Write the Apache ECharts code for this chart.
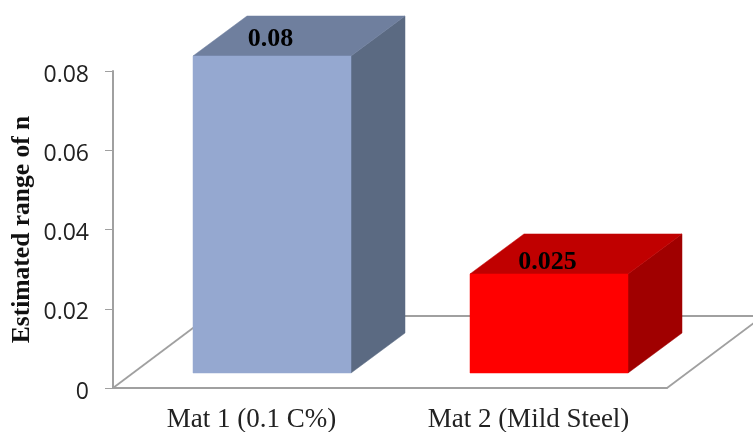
<!DOCTYPE html>
<html>
<head>
<meta charset="utf-8">
<style>html,body{margin:0;padding:0;background:#fff}#c{width:753px;height:432px}</style>
<script src="https://cdn.jsdelivr.net/npm/echarts@6/dist/echarts.min.js"></script>
</head>
<body>
<div id="c"></div>
<script>
const categories = ['Mat 1 (0.1 C%)', 'Mat 2 (Mild Steel)'];
const values = [0.08, 0.025];
const frontColors = ['#95a8d0', '#ff0000'];
const topColors = ['#6f7f9e', '#c00000'];
const sideColors = ['#5b6a82', '#a00000'];
const labelLifts = [17, 12];

const barWidth = 158, barShiftX = 20.5, barLiftY = 15, depthX = 54, depthY = 40;
const floorDepthX = 96, floorDepthY = 72, floorRightExtra = 100;
const serif = '"Liberation Serif", serif';
const gridLine = '#a0a0a0';

function renderBar(params, api) {
  const i = api.value(0), v = api.value(1);
  const base = api.coord([i, 0]), top = api.coord([i, v]);
  const x0 = base[0] + barShiftX - barWidth / 2, x1 = x0 + barWidth;
  const yb = base[1] - barLiftY, yt = top[1] - barLiftY;
  const poly = (points, fill, z2) => ({
    type: 'polygon', z2,
    shape: { points },
    style: { fill, stroke: fill, lineWidth: 0.5 }
  });
  return {
    type: 'group',
    children: [
      poly([[x1, yb], [x1 + depthX, yb - depthY], [x1 + depthX, yt - depthY], [x1, yt]], sideColors[i], 1),
      poly([[x0, yt], [x1, yt], [x1 + depthX, yt - depthY], [x0 + depthX, yt - depthY]], topColors[i], 1),
      poly([[x0, yb], [x1, yb], [x1, yt], [x0, yt]], frontColors[i], 2),
      {
        type: 'text', z2: 3,
        style: {
          text: String(v), x: base[0] + barShiftX - 1.5, y: yt - labelLifts[i],
          align: 'center', verticalAlign: 'middle',
          font: 'bold 26px ' + serif, fill: '#000'
        }
      }
    ]
  };
}

function renderFloor(params, api) {
  const cs = params.coordSys;
  const xl = cs.x, xr = cs.x + cs.width, yb = cs.y + cs.height, yBack = yb - floorDepthY;
  const line = (x1, y1, x2, y2) => ({
    type: 'line',
    shape: { x1, y1, x2, y2 },
    style: { stroke: gridLine, lineWidth: 1.8 }
  });
  return {
    type: 'group',
    children: [
      line(xl, yb, xl + floorDepthX, yBack),
      line(xl + floorDepthX, yBack, xr + floorRightExtra, yBack),
      line(xr, yb, xr + floorDepthX, yBack)
    ]
  };
}

const chart = echarts.init(document.getElementById('c'), null, { renderer: 'canvas' });
chart.setOption({
  animation: false,
  backgroundColor: '#fff',
  grid: { left: 113, top: 71, width: 554, height: 317, containLabel: false, outerBoundsMode: 'none' },
  xAxis: {
    type: 'category',
    data: categories,
    axisLine: { show: true, lineStyle: { color: gridLine, width: 2 } },
    axisTick: { show: false },
    axisLabel: { color: '#222', fontFamily: serif, fontSize: 27, margin: 18, hideOverlap: false }
  },
  yAxis: {
    type: 'value',
    min: 0,
    max: 0.08,
    interval: 0.02,
    name: 'Estimated range of n',
    nameLocation: 'middle',
    nameGap: 78,
    nameMoveOverlap: false,
    nameTextStyle: { color: '#111', fontFamily: serif, fontWeight: 'bold', fontSize: 25.5 },
    axisLine: { show: true, lineStyle: { color: gridLine, width: 2 } },
    axisTick: { show: true, length: 8, lineStyle: { color: gridLine, width: 1 } },
    splitLine: { show: false },
    axisLabel: { color: '#222', fontFamily: '"Open Sans", sans-serif', fontSize: 23, margin: 24, verticalAlign: 'top', lineHeight: 8 }
  },
  series: [
    { type: 'custom', name: 'floor', renderItem: renderFloor, data: [[0, 0]], silent: true, z: 1, clip: false },
    {
      type: 'custom', name: 'Estimated range of n', renderItem: renderBar,
      data: values.map((v, i) => [i, v]), encode: { x: 0, y: 1 }, z: 3, clip: false
    }
  ]
});
</script>
</body>
</html>
